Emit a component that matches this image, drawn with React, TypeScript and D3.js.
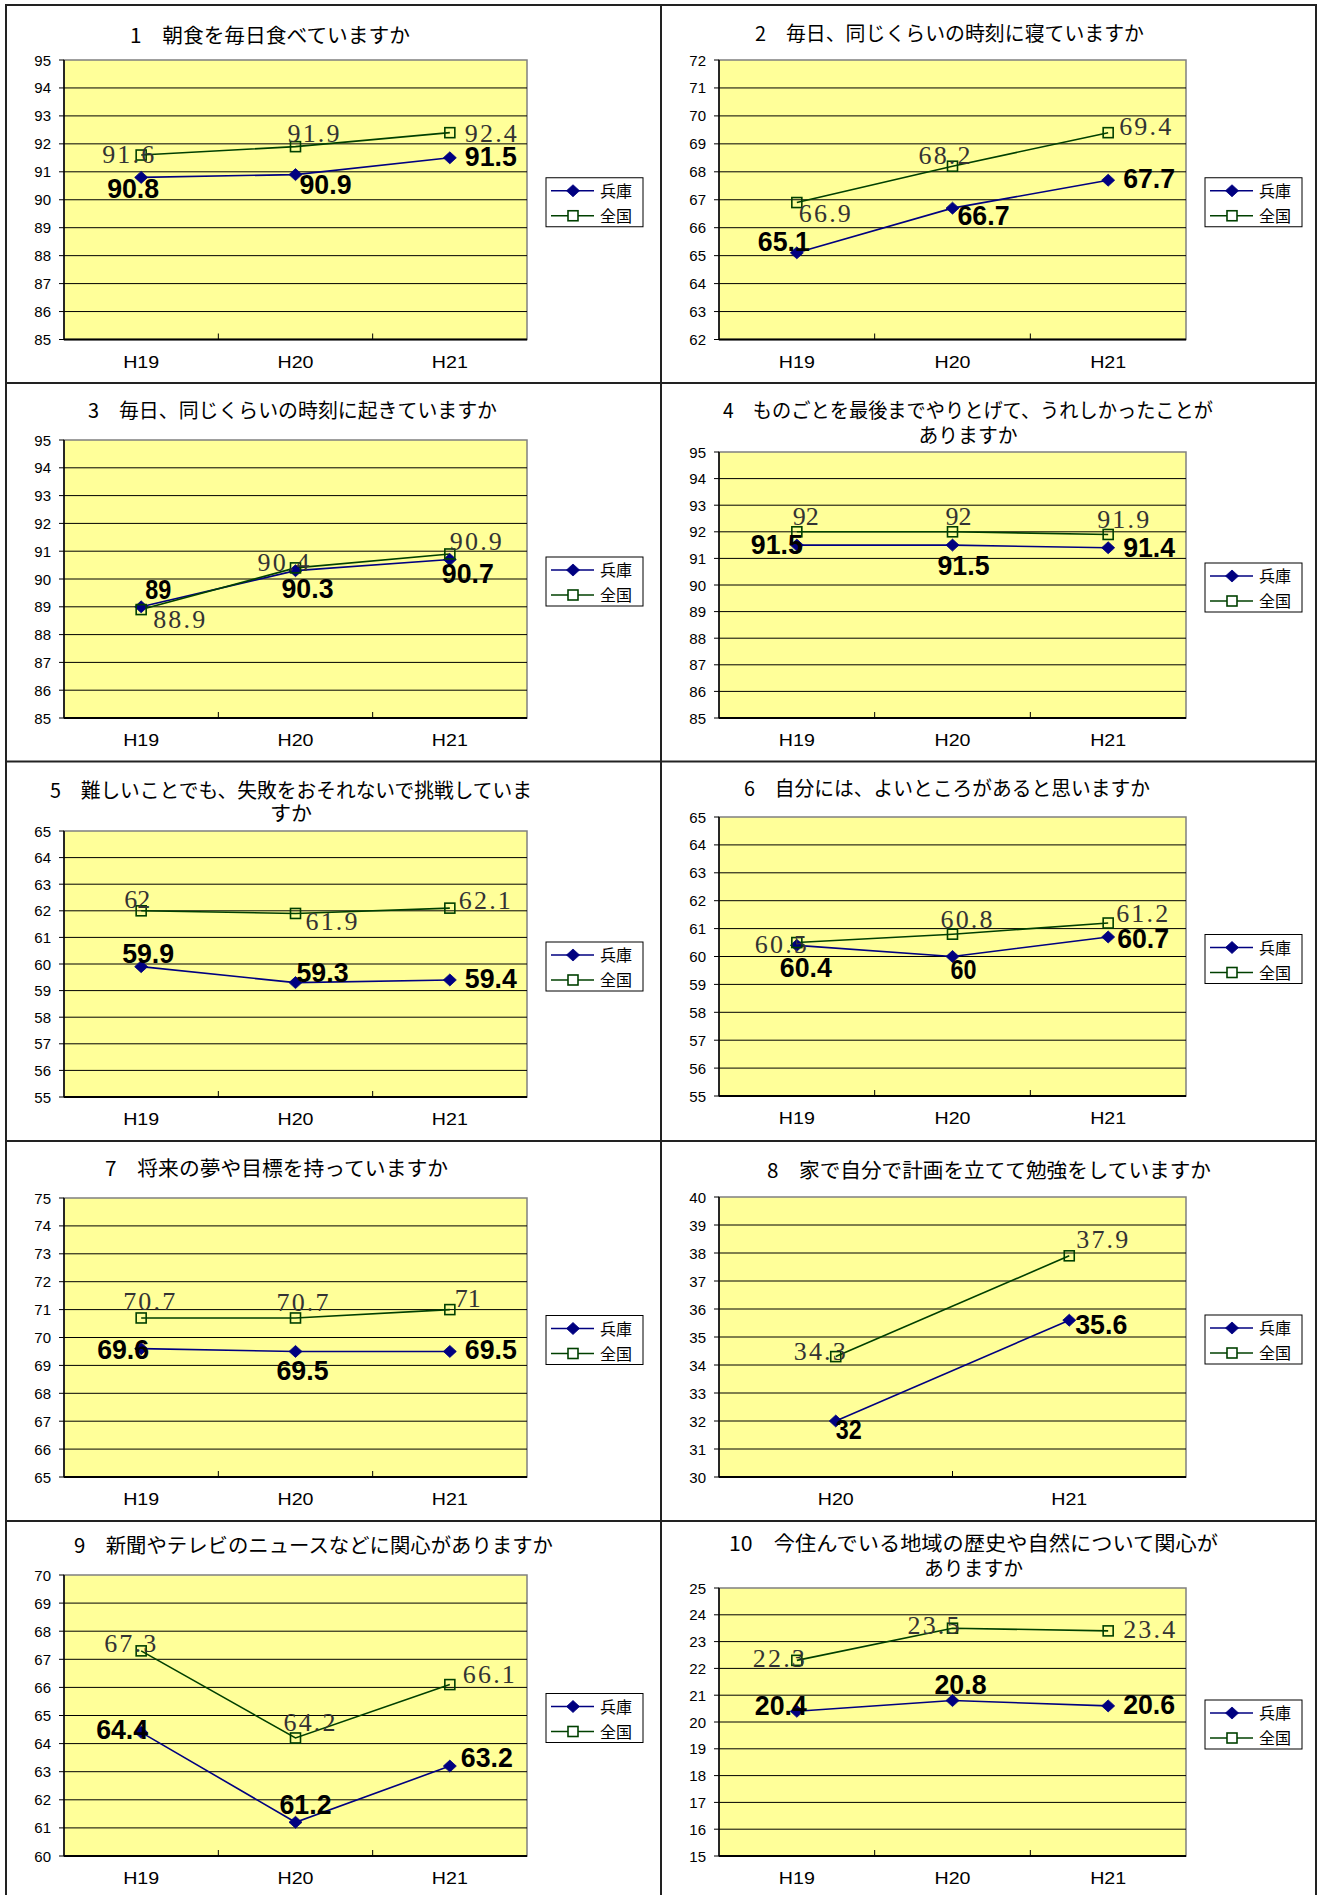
import React from "react";
import * as d3 from "d3";

// ---------- data ----------
const seriesNames = ["兵庫", "全国"];
const cats3 = ["H19", "H20", "H21"];
const cats2 = ["H20", "H21"];

const titles: string[][] = [
  ["1　朝食を毎日食べていますか"],
  ["2　毎日、同じくらいの時刻に寝ていますか"],
  ["3　毎日、同じくらいの時刻に起きていますか"],
  ["4　ものごとを最後までやりとげて、うれしかったことが", "ありますか"],
  ["5　難しいことでも、失敗をおそれないで挑戦していま", "すか"],
  ["6　自分には、よいところがあると思いますか"],
  ["7　将来の夢や目標を持っていますか"],
  ["8　家で自分で計画を立てて勉強をしていますか"],
  ["9　新聞やテレビのニュースなどに関心がありますか"],
  ["10　今住んでいる地域の歴史や自然について関心が", "ありますか"],
];

const hyogo1 = [90.8, 90.9, 91.5];
const zenkoku1 = [91.6, 91.9, 92.4];
const hyogo2 = [65.1, 66.7, 67.7];
const zenkoku2 = [66.9, 68.2, 69.4];
const hyogo3 = [89, 90.3, 90.7];
const zenkoku3 = [88.9, 90.4, 90.9];
const hyogo4 = [91.5, 91.5, 91.4];
const zenkoku4 = [92, 92, 91.9];
const hyogo5 = [59.9, 59.3, 59.4];
const zenkoku5 = [62, 61.9, 62.1];
const hyogo6 = [60.4, 60, 60.7];
const zenkoku6 = [60.5, 60.8, 61.2];
const hyogo7 = [69.6, 69.5, 69.5];
const zenkoku7 = [70.7, 70.7, 71];
const hyogo8 = [32, 35.6];
const zenkoku8 = [34.3, 37.9];
const hyogo9 = [64.4, 61.2, 63.2];
const zenkoku9 = [67.3, 64.2, 66.1];
const hyogo10 = [20.4, 20.8, 20.6];
const zenkoku10 = [22.3, 23.5, 23.4];

const yMin = [85, 62, 85, 85, 55, 55, 65, 30, 60, 15];
const yMax = [95, 72, 95, 95, 65, 65, 75, 40, 70, 25];

const panelCats = [cats3, cats3, cats3, cats3, cats3, cats3, cats3, cats2, cats3, cats3];
const panelHyogo = [hyogo1, hyogo2, hyogo3, hyogo4, hyogo5, hyogo6, hyogo7, hyogo8, hyogo9, hyogo10];
const panelZenkoku = [zenkoku1, zenkoku2, zenkoku3, zenkoku4, zenkoku5, zenkoku6, zenkoku7, zenkoku8, zenkoku9, zenkoku10];

// ---------- layout ----------
const W = 1319;
const H = 1895;
const colLeft = [64, 719];
const colRight = [527, 1186];

type Layout = { col: number; top: number; bottom: number; titleX: number; lines: { y: number; w: number }[] };
const layout: Layout[] = [
  { col: 0, top: 60, bottom: 339.5, titleX: 270, lines: [{ y: 43, w: 280 }] },
  { col: 1, top: 60, bottom: 339.5, titleX: 949.5, lines: [{ y: 41, w: 389 }] },
  { col: 0, top: 440, bottom: 718, titleX: 292.5, lines: [{ y: 418, w: 409 }] },
  { col: 1, top: 452, bottom: 718, titleX: 968, lines: [{ y: 418, w: 490 }, { y: 443, w: 99 }] },
  { col: 0, top: 831, bottom: 1097, titleX: 291, lines: [{ y: 798, w: 482 }, { y: 821, w: 42 }] },
  { col: 1, top: 817, bottom: 1096, titleX: 947, lines: [{ y: 796, w: 406 }] },
  { col: 0, top: 1198, bottom: 1477, titleX: 276.5, lines: [{ y: 1176, w: 343 }] },
  { col: 1, top: 1197, bottom: 1477, titleX: 989, lines: [{ y: 1178, w: 444 }] },
  { col: 0, top: 1575, bottom: 1856, titleX: 313.5, lines: [{ y: 1553, w: 479 }] },
  { col: 1, top: 1588, bottom: 1856, titleX: 973.5, lines: [{ y: 1551, w: 489 }, { y: 1576, w: 99 }] },
];

// label offsets [dx of text centre, dy of baseline] relative to each point
const labelOffsets: { h: number[][]; z: number[][] }[] = [
  { h: [[-8, 21], [30, 19], [41, 8]], z: [[-13, 8], [18, -5], [41, 9]] },
  { h: [[-13, -2], [31, 17], [41, 8]], z: [[28, 19], [-8, -2], [37, 2]] },
  { h: [[17, -8], [12, 27], [18, 23]], z: [[38, 18], [-12, 3], [26, -4]] },
  { h: [[-20, 9], [11, 30], [41, 9]], z: [[9, -7], [6, -7], [15, -6]] },
  { h: [[7, -4], [27, -1], [41, 8]], z: [[-4, -3], [36, 17], [35, 1]] },
  { h: [[9, 32], [11, 22], [35, 11]], z: [[-16, 10], [14, -6], [34, -1]] },
  { h: [[-18, 10], [7, 29], [41, 8]], z: [[8, -8], [7, -7], [18, -3]] },
  { h: [[13, 18], [32, 14]], z: [[-16, 3], [33, -8]] },
  { h: [[-19, 7], [10, -8], [37, 1]], z: [[-11, 1], [14, -7], [39, -2]] },
  { h: [[-16, 4], [8, -7], [41, 8]], z: [[-18, 7], [-19, 6], [41, 7]] },
];

const NAVY = "#000080";
const GREEN = "#004000";
const PLOT_FILL = "#FFFF99";
const CJK = "'Noto Sans CJK JP', 'Noto Sans', sans-serif";
const SANS = "'Liberation Sans', Arial, sans-serif";
const SERIF = "'Liberation Serif', 'DejaVu Serif', serif";

const diamond = (x: number, y: number) => `M${x},${y - 6}L${x + 6.5},${y}L${x},${y + 6}L${x - 6.5},${y}Z`;

function Panel({ idx }: { idx: number }) {
  const L = layout[idx];
  const x0 = colLeft[L.col];
  const x1 = colRight[L.col];
  const cats = panelCats[idx];
  const hy = panelHyogo[idx];
  const zk = panelZenkoku[idx];
  const xs = d3.scaleBand<string>().domain(cats).range([x0, x1]).padding(0);
  const ys = d3.scaleLinear().domain([yMin[idx], yMax[idx]]).range([L.bottom, L.top]);
  const ticks = d3.range(yMin[idx], yMax[idx] + 1, 1);
  const cx = (c: string) => (xs(c) as number) + xs.bandwidth() / 2;
  const lineGen = d3
    .line<number>()
    .x((_, i) => cx(cats[i]))
    .y((d) => ys(d));
  const off = labelOffsets[idx];

  const legendX = x1 + 19;
  const legendY = (L.top + L.bottom) / 2 + 2.5 - 24.5;

  return (
    <g>
      {titles[idx].map((t, i) => (
        <text
          key={"t" + i}
          x={L.titleX - L.lines[i].w / 2}
          y={L.lines[i].y}
          fontFamily={CJK}
          fontSize={20}
          textLength={L.lines[i].w}
          lengthAdjust="spacingAndGlyphs"
          fill="#000"
        >
          {t}
        </text>
      ))}
      <rect x={x0} y={L.top} width={x1 - x0} height={L.bottom - L.top} fill={PLOT_FILL} stroke="#808080" strokeWidth={1.5} />
      {ticks.slice(1, -1).map((t) => (
        <line key={"g" + t} x1={x0} x2={x1} y1={ys(t)} y2={ys(t)} stroke="#000" strokeWidth={1} />
      ))}
      <line x1={x0} x2={x0} y1={L.top} y2={L.bottom} stroke="#000" strokeWidth={1.5} />
      {ticks.map((t) => (
        <g key={"yt" + t}>
          <line x1={x0 - 5} x2={x0} y1={ys(t)} y2={ys(t)} stroke="#000" strokeWidth={1} />
          <text x={x0 - 13} y={ys(t) + 5.5} textAnchor="end" fontFamily={SANS} fontSize={15} fill="#000">
            {t}
          </text>
        </g>
      ))}
      <line x1={x0} x2={x1} y1={L.bottom} y2={L.bottom} stroke="#000" strokeWidth={2} />
      {cats.slice(1).map((c) => (
        <line key={"xt" + c} x1={xs(c) as number} x2={xs(c) as number} y1={L.bottom} y2={L.bottom - 6} stroke="#000" strokeWidth={1} />
      ))}
      {cats.map((c) => (
        <text
          key={"xl" + c}
          x={cx(c) - 18}
          y={L.bottom + 28}
          fontFamily={SANS}
          fontSize={16}
          textLength={36}
          lengthAdjust="spacingAndGlyphs"
          fill="#000"
        >
          {c}
        </text>
      ))}
      <path d={lineGen(hy) || ""} fill="none" stroke={NAVY} strokeWidth={1.6} />
      <path d={lineGen(zk) || ""} fill="none" stroke={GREEN} strokeWidth={1.6} />
      {hy.map((v, i) => (
        <path key={"hm" + i} d={diamond(cx(cats[i]), ys(v))} fill={NAVY} stroke={NAVY} strokeWidth={0.8} />
      ))}
      {zk.map((v, i) => (
        <rect key={"zm" + i} x={cx(cats[i]) - 5} y={ys(v) - 5} width={10} height={10} fill="none" stroke={GREEN} strokeWidth={1.6} />
      ))}
      {hy.map((v, i) => {
        const s = String(v);
        const w = 13 * s.length;
        return (
          <text
            key={"hl" + i}
            x={cx(cats[i]) + off.h[i][0] - w / 2}
            y={ys(v) + off.h[i][1]}
            fontFamily={SANS}
            fontWeight="bold"
            fontSize={28}
            textLength={w}
            lengthAdjust="spacingAndGlyphs"
            fill="#000"
          >
            {s}
          </text>
        );
      })}
      {zk.map((v, i) => {
        const s = String(v);
        const w = 13 * s.length;
        return (
          <text
            key={"zl" + i}
            x={cx(cats[i]) + off.z[i][0] - w / 2}
            y={ys(v) + off.z[i][1]}
            fontFamily={SERIF}
            fontSize={26}
            textLength={w}
            lengthAdjust="spacing"
            fill="#333"
          >
            {s}
          </text>
        );
      })}
      <rect x={legendX} y={legendY} width={97} height={49} fill="#fff" stroke="#000" strokeWidth={1} />
      {seriesNames.map((name, i) => {
        const ry = legendY + 13 + i * 25;
        const color = i === 0 ? NAVY : GREEN;
        const mx = legendX + 27;
        return (
          <g key={"lg" + i}>
            <line x1={legendX + 5} x2={legendX + 48} y1={ry} y2={ry} stroke={color} strokeWidth={1.6} />
            {i === 0 ? (
              <path d={diamond(mx, ry)} fill={NAVY} stroke={NAVY} strokeWidth={0.8} />
            ) : (
              <rect x={mx - 5} y={ry - 5} width={10} height={10} fill="#fff" stroke={GREEN} strokeWidth={1.6} />
            )}
            <text x={legendX + 54} y={ry + 6} fontFamily={CJK} fontSize={16} fill="#000">
              {name}
            </text>
          </g>
        );
      })}
    </g>
  );
}

export default function App() {
  const hLines = [5, 383, 761.5, 1141, 1521];
  const vLines = [6, 661, 1316];
  return (
    <svg
      width={W}
      height={H}
      viewBox={`0 0 ${W} ${H}`}
      style={{ position: "absolute", left: 0, top: 0, display: "block" }}
    >
      <rect x={0} y={0} width={W} height={H} fill="#fff" />
      {hLines.map((y) => (
        <line key={"h" + y} x1={5} x2={1317} y1={y} y2={y} stroke="#222" strokeWidth={2} />
      ))}
      {vLines.map((x) => (
        <line key={"v" + x} x1={x} x2={x} y1={4} y2={H} stroke="#222" strokeWidth={2} />
      ))}
      {layout.map((_, i) => (
        <Panel key={i} idx={i} />
      ))}
    </svg>
  );
}
